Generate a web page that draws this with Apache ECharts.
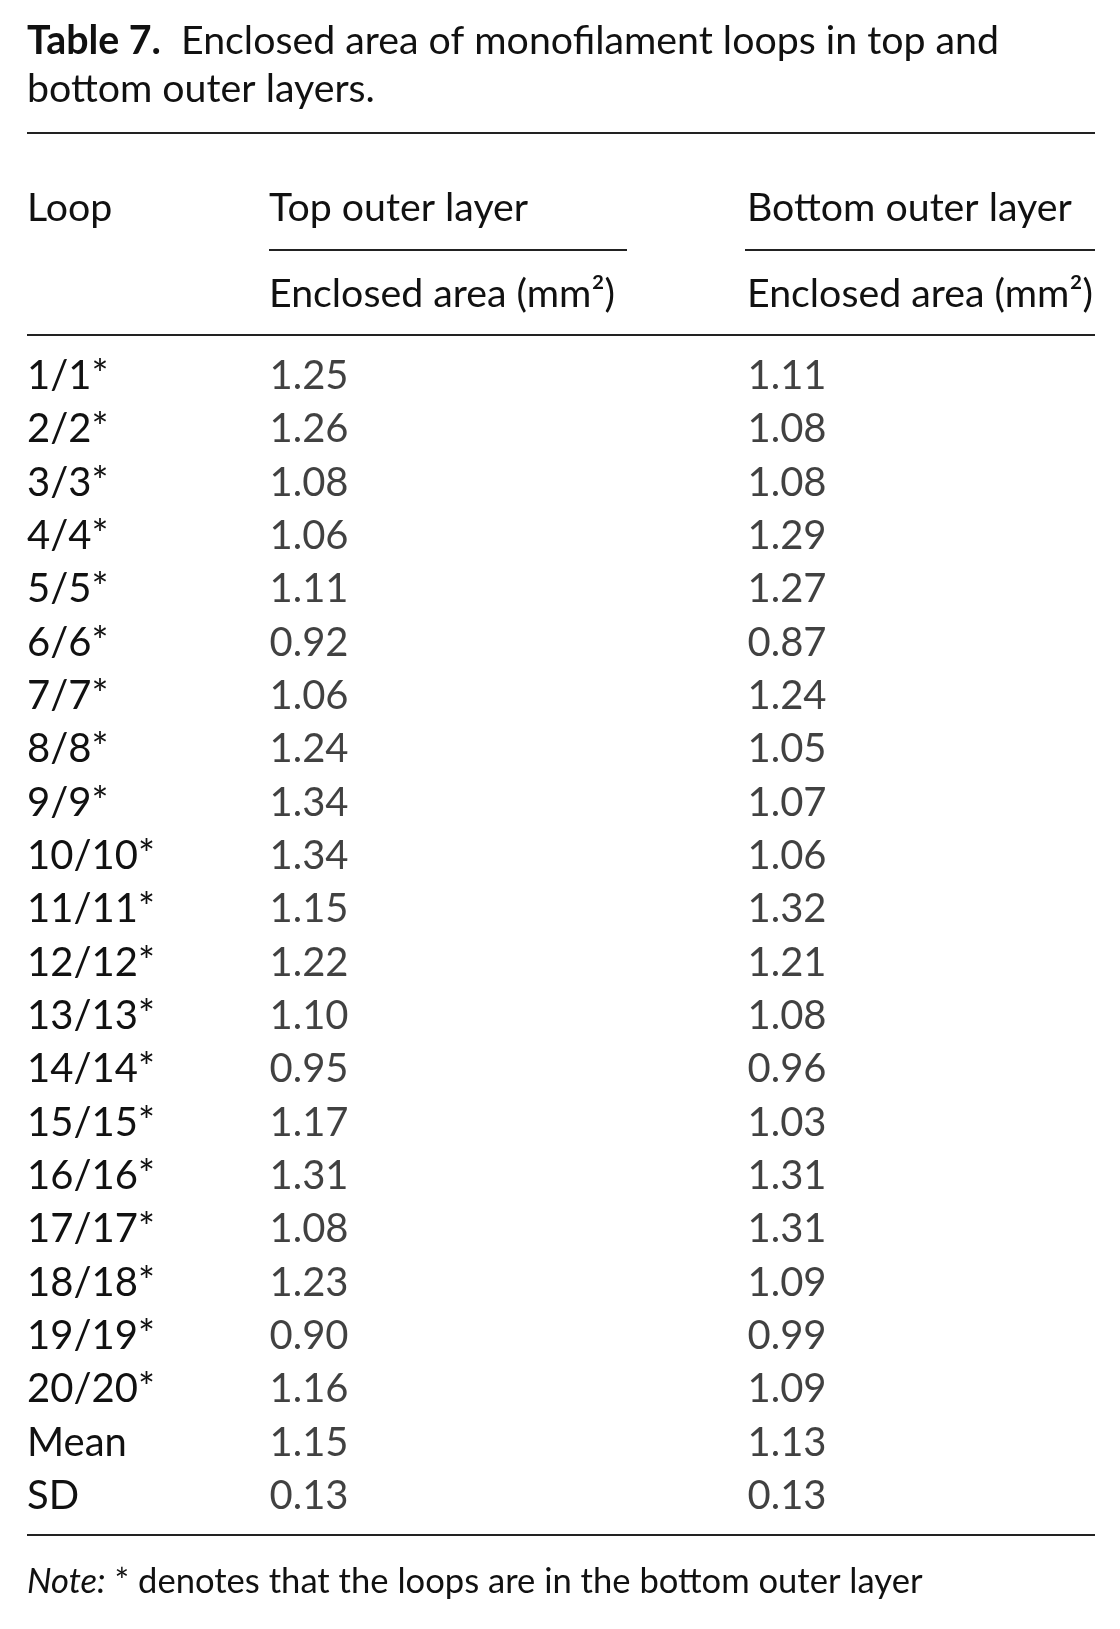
<!DOCTYPE html>
<html>
<head>
<meta charset="utf-8">
<script src="https://cdn.jsdelivr.net/npm/echarts@6/dist/echarts.min.js"></script>
<style>
html,body{margin:0;padding:0;background:#fff;}
#chart{width:1120px;height:1629px;}
</style>
</head>
<body>
<div id="chart"></div>
<script>
// ---- data ----
var loops = ['1/1*','2/2*','3/3*','4/4*','5/5*','6/6*','7/7*','8/8*','9/9*','10/10*',
  '11/11*','12/12*','13/13*','14/14*','15/15*','16/16*','17/17*','18/18*','19/19*','20/20*','Mean','SD'];
var columns = ['Top outer layer','Bottom outer layer'];
var subHeader = 'Enclosed area (mm²)';
var topOuter = [1.25,1.26,1.08,1.06,1.11,0.92,1.06,1.24,1.34,1.34,1.15,1.22,1.10,0.95,1.17,1.31,1.08,1.23,0.90,1.16,1.15,0.13];
var bottomOuter = [1.11,1.08,1.08,1.29,1.27,0.87,1.24,1.05,1.07,1.06,1.32,1.21,1.08,0.96,1.03,1.31,1.31,1.09,0.99,1.09,1.13,0.13];
var titleBold = 'Table 7.';
var titleText = 'Enclosed area of monofilament loops in top and\nbottom outer layers.';
var noteLead = 'Note:';
var noteText = '* denotes that the loops are in the bottom outer layer';
var rowHeader = 'Loop';

// ---- style ----
var FONT = 'Lato';
var FS = 40;       // body cells
var HFS = 39.3;    // title & headers
var NOTE_FS = 34.6;
var INK = '#111';

var chart = echarts.init(document.getElementById('chart'), null, {renderer:'canvas'});

function colSeries(name, vals) {
  return {
    type: 'scatter',
    name: name,
    xAxisIndex: 0,
    yAxisIndex: 0,
    symbolSize: 1,
    itemStyle: {color: 'rgba(0,0,0,0)'},
    silent: true,
    data: loops.map(function (r, i) { return [name, r, vals[i]]; }),
    label: {
      show: true,
      position: 'right',
      distance: 0,
      align: 'left',
      verticalAlign: 'middle',
      fontFamily: FONT,
      fontSize: FS,
      lineHeight: FS,
      color: INK,
      formatter: function (p) { return p.value[2].toFixed(2); }
    }
  };
}

function hline(x1, x2, y) {
  return {type:'line', silent:true, shape:{x1:x1, y1:y, x2:x2, y2:y}, style:{stroke:'#222', lineWidth:2}};
}

var option = {
  backgroundColor: '#fff',
  animation: false,
  title: [
    {
      text: '{b|' + titleBold + '}  ' + titleText,
      left: 27, top: 17, padding: 0,
      textStyle: {
        fontFamily: FONT, fontSize: HFS, fontWeight: 'normal', color: INK, lineHeight: 48,
        rich: {b: {fontFamily: FONT, fontSize: HFS, fontWeight: 'bold', color: INK, lineHeight: 48}}
      }
    },
    {
      text: rowHeader,
      left: 27, top: 188, padding: 0,
      textStyle: {fontFamily: FONT, fontSize: HFS, fontWeight: 'normal', color: INK, lineHeight: 40}
    },
    {
      text: '{i|' + noteLead + '} ' + noteText,
      left: 27, top: 1564, padding: 0,
      textStyle: {
        fontFamily: FONT, fontSize: NOTE_FS, fontWeight: 'normal', color: INK, lineHeight: 35,
        rich: {i: {fontFamily: FONT, fontSize: NOTE_FS, fontStyle: 'italic', color: INK, lineHeight: 35}}
      }
    }
  ],
  grid: {left: 269, right: 373, top: 376, bottom: 133, containLabel: false},
  xAxis: [
    {
      type: 'category', data: columns, position: 'top', boundaryGap: false,
      axisLine: {show: false}, axisTick: {show: false}, splitLine: {show: false},
      axisLabel: {
        show: true, interval: 0, margin: 168, align: 'left', verticalAlign: 'middle',
        fontFamily: FONT, fontSize: HFS, lineHeight: 40, color: INK
      }
    },
    {
      type: 'category', data: columns, position: 'top', boundaryGap: false,
      axisLine: {show: false}, axisTick: {show: false}, splitLine: {show: false},
      axisLabel: {
        show: true, interval: 0, margin: 82, align: 'left', verticalAlign: 'middle',
        fontFamily: FONT, fontSize: HFS, lineHeight: 40, color: INK,
        formatter: function () { return subHeader; }
      }
    }
  ],
  yAxis: {
    type: 'category', data: loops, inverse: true, boundaryGap: false,
    axisLine: {show: false}, axisTick: {show: false}, splitLine: {show: false},
    axisLabel: {
      show: true, interval: 0, margin: 242, align: 'left', verticalAlign: 'middle',
      fontFamily: FONT, fontSize: FS, lineHeight: FS, color: INK
    }
  },
  series: [colSeries(columns[0], topOuter), colSeries(columns[1], bottomOuter)],
  graphic: [
    hline(27, 1095, 133),
    hline(269, 627, 250),
    hline(745, 1095, 250),
    hline(27, 1095, 335),
    hline(27, 1095, 1535)
  ]
};
chart.setOption(option);
</script>
</body>
</html>
